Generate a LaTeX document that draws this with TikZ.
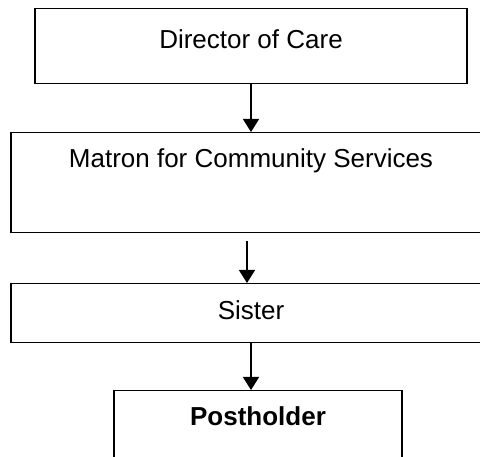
\documentclass[tikz,border=0pt]{standalone}
\usepackage{fontspec}
\setmainfont{Liberation Sans}
\usetikzlibrary{arrows.meta}

\begin{document}
\begin{tikzpicture}[x=1pt,y=-1pt]
    \tikzstyle{post}=[draw,line width=1.5pt,inner sep=0pt,anchor=north,font=\fontsize{26}{30}\selectfont]
    \tikzstyle{down}=[line width=1.5pt,-{Triangle[width=16pt,length=13pt]}]
    \path[use as bounding box,clip] (0,0) rectangle (480,457);
    % Draw the posts
    \node[post,minimum width=432pt,text height=40pt,text depth=35pt] (director) at (251,8) {Director of Care};
    \node[post,minimum width=480pt,text height=35pt,text depth=65pt] (matron) at (251,132) {Matron for Community Services};
    \node[post,minimum width=480pt,text height=36pt,text depth=23pt] (sister) at (251,283) {Sister};
    \node[post,minimum width=288pt,text height=35pt,text depth=40pt,font=\fontsize{26}{30}\selectfont\bfseries] (postholder) at (258,390) {Postholder};
    % Draw the lines of report
    \coordinate (gap) at ([xshift=-4pt,yshift=-8pt]matron.south);
    \draw[down] (director) -- (matron);
    \draw[down] (gap) -- (gap |- sister.north);
    \draw[down] (sister.south) -- (sister.south |- postholder.north);
\end{tikzpicture}
\end{document}
